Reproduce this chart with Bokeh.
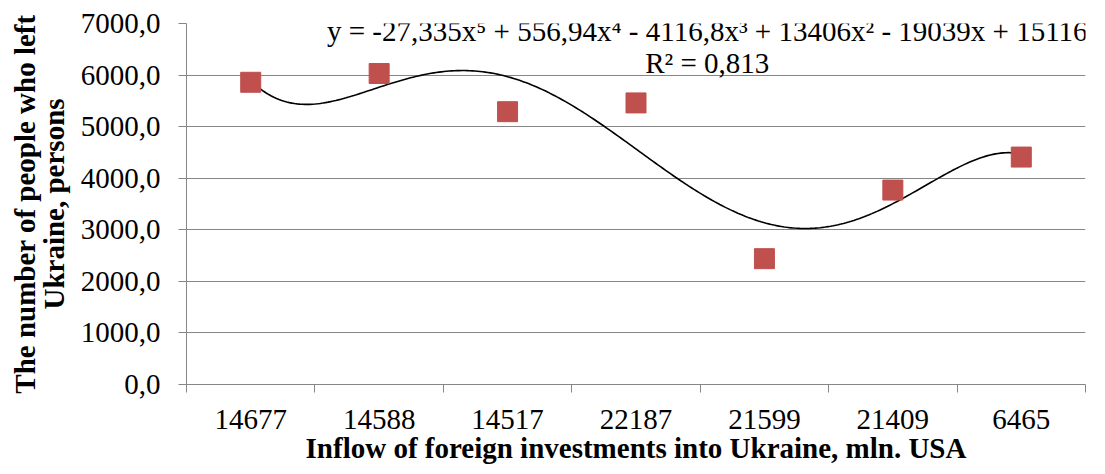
import numpy as np
from bokeh.plotting import figure
from bokeh.models import FixedTicker, Label, ColumnDataSource, Range1d
from bokeh.embed import file_html
from bokeh.resources import INLINE

categories = ["14677", "14588", "14517", "22187", "21599", "21409", "6465"]
people_left = [5860, 6030, 5290, 5460, 2440, 3770, 4410]
y_ticks = [0, 1000, 2000, 3000, 4000, 5000, 6000, 7000]
y_tick_labels = ["0,0", "1000,0", "2000,0", "3000,0", "4000,0", "5000,0", "6000,0", "7000,0"]
# trendline coefficients as shown on the chart (highest power first)
trend_coefs = [-27.335, 556.94, -4116.8, 13406, -19039, 15116]
equation_text = "y = -27,335x\u2075 + 556,94x\u2074 - 4116,8x\u00b3 + 13406x\u00b2 - 19039x + 15116"
r2_text = "R\u00b2 = 0,813"

FONT = "'Liberation Serif', serif"
FS = "29px"
GRAY = "#868686"

n = len(categories)
xpos = list(range(1, n + 1))

p = figure(width=1097, height=466, output_backend="svg", toolbar_location=None,
           x_range=Range1d(0.5, n + 0.5), y_range=Range1d(0, 7000),
           min_border_left=186, min_border_top=23, min_border_bottom=82, min_border_right=12)
p.outline_line_color = None
p.background_fill_color = "white"

# trendline
xs = np.linspace(1, n, 300)
ys = np.polyval(trend_coefs, xs)
p.line(xs, ys, line_color="black", line_width=1.6)

src = ColumnDataSource(dict(x=xpos, y=people_left))
p.scatter("x", "y", source=src, marker="square", size=20,
          fill_color="#C0504D", line_color="#C0504D")

# axes
p.xaxis.ticker = FixedTicker(ticks=xpos, minor_ticks=[i + 0.5 for i in range(0, n + 1)])
p.xaxis.major_label_overrides = {i + 1: c for i, c in enumerate(categories)}
p.xaxis.major_tick_line_color = None
p.xaxis.major_tick_in = 0
p.xaxis.major_tick_out = 0
p.xaxis.minor_tick_line_color = GRAY
p.xaxis.minor_tick_in = 0
p.xaxis.minor_tick_out = 8
p.xaxis.axis_line_color = GRAY
p.xaxis.major_label_text_font = FONT
p.xaxis.major_label_text_font_size = FS
p.xaxis.major_label_text_color = "black"
p.xaxis.major_label_standoff = 17
p.xaxis.axis_label = "Inflow of foreign investments into Ukraine, mln. USA"
p.xaxis.axis_label_text_font = FONT
p.xaxis.axis_label_text_font_style = "bold"
p.xaxis.axis_label_text_font_size = FS
p.xaxis.axis_label_text_color = "black"
p.xaxis.axis_label_standoff = 0

p.yaxis.ticker = FixedTicker(ticks=y_ticks)
p.yaxis.major_label_overrides = {t: l for t, l in zip(y_ticks, y_tick_labels)}
p.yaxis.major_tick_line_color = GRAY
p.yaxis.major_tick_in = 0
p.yaxis.major_tick_out = 8
p.yaxis.minor_tick_line_color = None
p.yaxis.axis_line_color = GRAY
p.yaxis.major_label_text_font = FONT
p.yaxis.major_label_text_font_size = FS
p.yaxis.major_label_text_color = "black"
p.yaxis.major_label_standoff = 18
p.yaxis.axis_label = "The number of people who left\nUkraine, persons"
p.yaxis.axis_label_text_font = FONT
p.yaxis.axis_label_text_font_style = "bold"
p.yaxis.axis_label_text_font_size = FS
p.yaxis.axis_label_text_line_height = 0.9
p.yaxis.axis_label_text_color = "black"
p.yaxis.axis_label_standoff = 8

p.xgrid.grid_line_color = None
p.ygrid.ticker = FixedTicker(ticks=y_ticks)
p.ygrid.grid_line_color = GRAY
p.ygrid.grid_line_width = 1.2

# trendline equation
p.add_layout(Label(x=4.555, y=6860, text=equation_text, text_align="center",
                   text_baseline="alphabetic", text_font=FONT, text_font_size=FS,
                   text_color="black"))
p.add_layout(Label(x=4.555, y=6230, text=r2_text, text_align="center",
                   text_baseline="alphabetic", text_font=FONT, text_font_size=FS,
                   text_color="black"))

open("out.html", "w").write(file_html(p, INLINE))
